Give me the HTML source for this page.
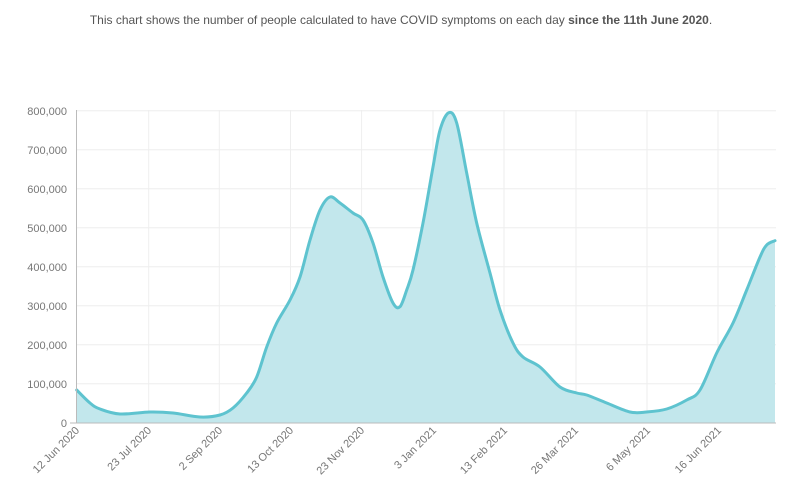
<!DOCTYPE html>
<html><head><meta charset="utf-8"><style>
body{margin:0;background:#fff;width:802px;height:497px;overflow:hidden;font-family:"Liberation Sans",sans-serif}
.t{position:absolute;top:13px;left:0;width:802px;text-align:center;font-size:12px;color:#555}
</style></head><body>
<div class="t">This chart shows the number of people calculated to have COVID symptoms on each day <b>since the 11th June 2020</b>.</div>
<svg width="802" height="497" style="position:absolute;left:0;top:0">
<g stroke="#eee" stroke-width="1">
<line x1="76" x2="776" y1="110.7" y2="110.7"/><line x1="76" x2="776" y1="149.7" y2="149.7"/><line x1="76" x2="776" y1="188.7" y2="188.7"/><line x1="76" x2="776" y1="227.7" y2="227.7"/><line x1="76" x2="776" y1="266.7" y2="266.7"/><line x1="76" x2="776" y1="305.7" y2="305.7"/><line x1="76" x2="776" y1="344.7" y2="344.7"/><line x1="76" x2="776" y1="383.7" y2="383.7"/>
<line x1="148.7" x2="148.7" y1="110" y2="423"/><line x1="219.3" x2="219.3" y1="110" y2="423"/><line x1="290.5" x2="290.5" y1="110" y2="423"/><line x1="361.6" x2="361.6" y1="110" y2="423"/><line x1="433" x2="433" y1="110" y2="423"/><line x1="504" x2="504" y1="110" y2="423"/><line x1="576" x2="576" y1="110" y2="423"/><line x1="647" x2="647" y1="110" y2="423"/><line x1="718" x2="718" y1="110" y2="423"/>
</g>
<path id="a" fill="#c2e7ec" stroke="none" d=""/>
<path id="l" fill="none" stroke="#5ec3cf" stroke-width="3" stroke-linejoin="round" stroke-linecap="round" d=""/>
<line x1="76.5" x2="76.5" y1="110" y2="423" stroke="#bbb"/>
<line x1="70" x2="776" y1="423" y2="423" stroke="#bbb"/>
<g font-size="11" fill="#777" text-anchor="end">
<text x="67" y="115">800,000</text><text x="67" y="154">700,000</text><text x="67" y="193">600,000</text><text x="67" y="232">500,000</text><text x="67" y="271">400,000</text><text x="67" y="310">300,000</text><text x="67" y="349">200,000</text><text x="67" y="388">100,000</text><text x="67" y="427">0</text>
</g>
<g font-size="11" fill="#777" text-anchor="end">
<text transform="translate(80,431) rotate(-45)">12 Jun 2020</text>
<text transform="translate(152,431) rotate(-45)">23 Jul 2020</text>
<text transform="translate(223,431) rotate(-45)">2 Sep 2020</text>
<text transform="translate(294,431) rotate(-45)">13 Oct 2020</text>
<text transform="translate(365,431) rotate(-45)">23 Nov 2020</text>
<text transform="translate(437,431) rotate(-45)">3 Jan 2021</text>
<text transform="translate(508,431) rotate(-45)">13 Feb 2021</text>
<text transform="translate(579,431) rotate(-45)">26 Mar 2021</text>
<text transform="translate(651,431) rotate(-45)">6 May 2021</text>
<text transform="translate(722,431) rotate(-45)">16 Jun 2021</text>
</g>
</svg>
<script>
var p=[[76.7,390],[90,403],[100,409],[120,414],[150,412],[173,413],[200,417],[220,415],[233,408],[246.7,393],[256.7,377],[266.7,347],[276.7,323],[290,300],[300,277],[310,240],[320,210],[330,197],[340,203],[353,213],[363,220],[373,243],[383,277],[393,303],[400,306.7],[406.7,290],[413,270],[423,223],[433,167],[440,130],[448.7,112.7],[456.7,123],[466.7,173],[476.7,223],[490,273],[500,310],[513,343],[523,357],[540,367],[560,387],[576.7,393],[586.7,395],[606.7,403],[630,412],[646.7,412],[666.7,409],[686.7,400],[700,390],[716.7,353],[733,323],[746.7,290],[760,257],[766.7,245],[775,240.7]];
var d="M"+p[0][0]+","+p[0][1];
for(var i=0;i<p.length-1;i++){var a=p[i-1]||p[i],b=p[i],c=p[i+1],e=p[i+2]||c;
d+=" C"+(b[0]+(c[0]-a[0])/6)+","+(b[1]+(c[1]-a[1])/6)+" "+(c[0]-(e[0]-b[0])/6)+","+(c[1]-(e[1]-b[1])/6)+" "+c[0]+","+c[1];}
document.getElementById("l").setAttribute("d",d);
document.getElementById("a").setAttribute("d",d+" L775,423 L76.7,423 Z");
</script>
</body></html>
